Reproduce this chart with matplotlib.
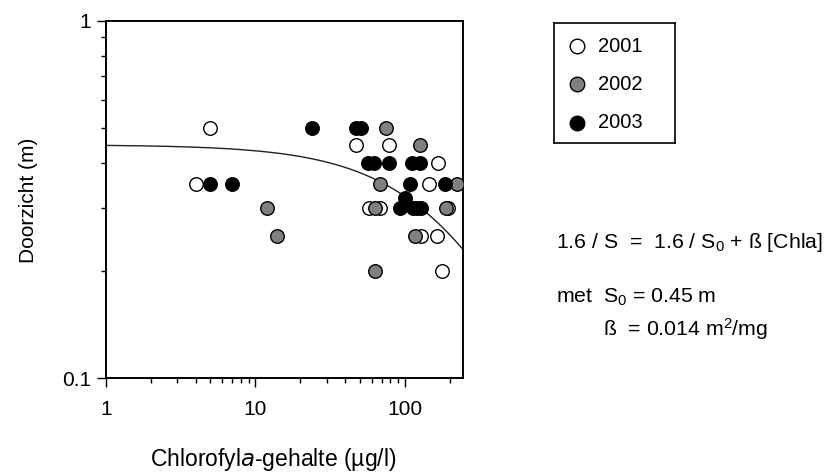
import matplotlib
matplotlib.use('Agg')
import matplotlib.pyplot as plt
import numpy as np
from matplotlib.ticker import LogLocator, NullFormatter, FixedLocator, FixedFormatter

plt.rcParams['font.family'] = ['Liberation Sans', 'DejaVu Sans']
plt.rcParams['mathtext.default'] = 'regular'

# chlorophyll-a (ug/l) and Secchi depth (m) per year
chla_2001 = [5, 47, 78, 167, 4, 145, 58, 68, 194, 129, 165, 178]
secchi_2001 = [0.5, 0.45, 0.45, 0.4, 0.35, 0.35, 0.3, 0.3, 0.3, 0.25, 0.25, 0.2]
chla_2002 = [75, 126, 68, 223, 12, 63, 188, 14, 117, 63]
secchi_2002 = [0.5, 0.45, 0.35, 0.35, 0.3, 0.3, 0.3, 0.25, 0.25, 0.2]
chla_2003 = [24, 47, 51, 57, 62, 78, 112, 127, 5, 7, 108, 186, 100, 93, 113, 121, 129]
secchi_2003 = [0.5, 0.5, 0.5, 0.4, 0.4, 0.4, 0.4, 0.4, 0.35, 0.35, 0.35, 0.35, 0.32, 0.3, 0.3, 0.3, 0.3]

years = ['2001', '2002', '2003']
colors = ['white', '#808080', 'black']

# model: 1.6/S = 1.6/S0 + beta*Chla
s0 = 0.45
beta = 0.014

fig = plt.figure(figsize=(8.35, 4.73), dpi=100)
ax = fig.add_axes([106/835, 1-378/473, 357/835, 357/473])

x_model = np.logspace(0, np.log10(245), 200)
y_model = 1.6 / (1.6/s0 + beta*x_model)
ax.plot(x_model, y_model, color='#222222', lw=1.0, zorder=1)

series = [(chla_2001, secchi_2001), (chla_2002, secchi_2002), (chla_2003, secchi_2003)]
for (cx, cy), col in zip(series, colors):
    ax.scatter(cx, cy, s=95, facecolor=col, edgecolor='black', linewidth=1.0, zorder=3)

ax.set_xscale('log')
ax.set_yscale('log')
ax.set_xlim(1, 245)
ax.set_ylim(0.1, 1)

ax.xaxis.set_major_locator(FixedLocator([1, 10, 100]))
ax.xaxis.set_major_formatter(FixedFormatter(['1', '10', '100']))
ax.xaxis.set_minor_locator(LogLocator(base=10, subs=np.arange(2, 10), numticks=20))
ax.xaxis.set_minor_formatter(NullFormatter())
ax.yaxis.set_major_locator(FixedLocator([0.1, 1]))
ax.yaxis.set_major_formatter(FixedFormatter(['0.1', '1']))
ax.yaxis.set_minor_locator(LogLocator(base=10, subs=np.arange(2, 10), numticks=20))
ax.yaxis.set_minor_formatter(NullFormatter())

ax.tick_params(which='major', direction='out', length=6.5, width=1, labelsize=15, color='black')
ax.tick_params(axis='x', which='major', pad=9)
ax.tick_params(axis='y', which='major', pad=4)
ax.tick_params(which='minor', direction='out', length=3.5, width=1)
for sp in ax.spines.values():
    sp.set_linewidth(1.4)

fig.text(273/835, 1-459/473, 'Chlorofyl$\\it{a}$-gehalte (µg/l)', ha='center', va='center', fontsize=16.5)
fig.text(29/835, 1-200/473, 'Doorzicht (m)', rotation=90, ha='center', va='center', fontsize=15)

# legend box
lax = fig.add_axes([554/835, 1-143/473, 121/835, 120/473])
lax.set_xlim(0, 121)
lax.set_ylim(120, 0)
lax.set_xticks([])
lax.set_yticks([])
for sp in lax.spines.values():
    sp.set_linewidth(1.2)
for i, (yr, col) in enumerate(zip(years, colors)):
    yy = 23 + i*38.5
    lax.scatter([22.5], [yy], s=110, facecolor=col, edgecolor='black', linewidth=1.0)
    lax.text(44, yy, yr, ha='left', va='center', fontsize=14.5)

fig.text(556/835, 1-242/473, '1.6 / S  =  1.6 / S$_0$ + ß [Chla]', ha='left', va='center', fontsize=15.3)
fig.text(556/835, 1-297/473, 'met  S$_0$ = 0.45 m', ha='left', va='center', fontsize=15.3)
fig.text(603/835, 1-329/473, 'ß  = 0.014 m$^2$/mg', ha='left', va='center', fontsize=15.3)

fig.savefig('out.png', dpi=100)
